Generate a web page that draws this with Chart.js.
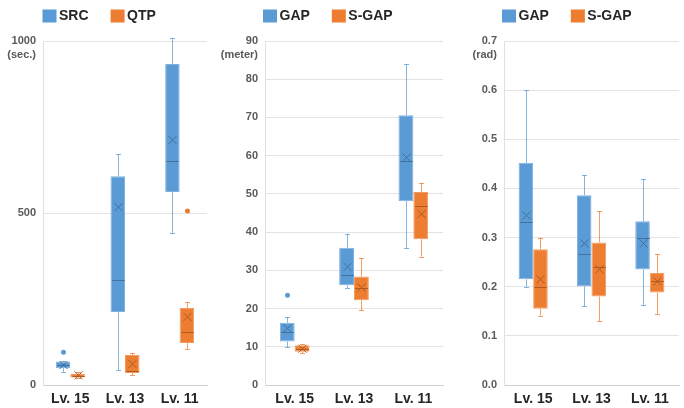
<!DOCTYPE html>
<html><head><meta charset="utf-8">
<script src="https://cdn.jsdelivr.net/npm/chart.js@4.4.0/dist/chart.umd.min.js"></script>
<style>
html,body{margin:0;padding:0;background:#fff;}
#wrap{position:relative;width:684px;height:408px;overflow:hidden;background:#fff}
canvas{position:absolute;top:0}
</style></head><body>
<div id="wrap">
<canvas id="c1" style="left:0px;width:228px;height:408px" width="228" height="408"></canvas>
<canvas id="c2" style="left:210px;width:240px;height:408px" width="240" height="408"></canvas>
<canvas id="c3" style="left:450px;width:234px;height:408px" width="234" height="408"></canvas>
</div>
<script>
// ---------- data ----------
const categories = ['Lv. 15', 'Lv. 13', 'Lv. 11'];

// Panel 1: time (sec.)
const timeUnit = '(sec.)';
const timeMax = 1000, timeStep = 500;
const srcMin  = [38, 44, 441];
const srcQ1   = [49, 212, 561];
const srcMed  = [58, 305, 651];
const srcQ3   = [68, 607, 933];
const srcMax  = [70, 671, 1009];
const srcMean = [58, 517, 712];
const srcOut  = [[95], [], []];
const qtpMin  = [19, 29, 105];
const qtpQ1   = [22, 35, 122];
const qtpMed  = [27, 40, 154];
const qtpQ3   = [32, 87, 224];
const qtpMax  = [37, 93, 241];
const qtpMean = [28, 61, 198];
const qtpOut  = [[], [], [506]];

// Panel 2: distance (meter)
const distUnit = '(meter)';
const distMax = 90, distStep = 10;
const gapDMin  = [9.9, 25.4, 35.8];
const gapDQ1   = [11.4, 26.1, 48.1];
const gapDMed  = [13.9, 28.9, 58.5];
const gapDQ3   = [16.3, 35.9, 70.6];
const gapDMax  = [17.8, 39.6, 83.9];
const gapDMean = [14.8, 30.9, 59.5];
const gapDOut  = [[23.5], [], []];
const sgapDMin  = [8.3, 19.5, 33.6];
const sgapDQ1   = [8.7, 22.2, 38.1];
const sgapDMed  = [9.5, 25.5, 46.8];
const sgapDQ3   = [10.4, 28.4, 50.5];
const sgapDMax  = [10.7, 33.2, 52.9];
const sgapDMean = [9.5, 25.5, 44.7];
const sgapDOut  = [[], [], []];

// Panel 3: angle (rad)
const angUnit = '(rad)';
const angMax = 0.7, angStep = 0.1;
const gapAMin  = [0.200, 0.160, 0.162];
const gapAQ1   = [0.215, 0.201, 0.235];
const gapAMed  = [0.332, 0.266, 0.300];
const gapAQ3   = [0.452, 0.386, 0.333];
const gapAMax  = [0.600, 0.427, 0.419];
const gapAMean = [0.345, 0.288, 0.288];
const gapAOut  = [[], [], []];
const sgapAMin  = [0.141, 0.130, 0.145];
const sgapAQ1   = [0.155, 0.180, 0.188];
const sgapAMed  = [0.200, 0.241, 0.212];
const sgapAQ3   = [0.276, 0.290, 0.228];
const sgapAMax  = [0.300, 0.354, 0.266];
const sgapAMean = [0.215, 0.235, 0.211];
const sgapAOut  = [[], [], []];

// ---------- styles ----------
const BLUE = '#5b9bd5', ORANGE = '#ed7d31';
const SANS = '"Liberation Sans", Arial, sans-serif';

function boxDataset(label, color, edge, dark, whisk, mn, q1, med, q3, mx, mean, out) {
  return {
    label,
    data: q1.map((v, i) => [v, q3[i]]),
    stats: {min: mn, med, max: mx, mean, out},
    backgroundColor: color,
    borderColor: edge,
    borderWidth: 1,
    borderSkipped: false,
    darkColor: dark,
    whiskerColor: whisk
  };
}

const boxPlugin = {
  id: 'boxWhisker',
  afterDatasetsDraw(chart) {
    const ctx = chart.ctx, ys = chart.scales.y;
    const py = v => ys.getPixelForValue(v);
    const line = (x1, y1, x2, y2) => { ctx.beginPath(); ctx.moveTo(x1, y1); ctx.lineTo(x2, y2); ctx.stroke(); };
    chart.data.datasets.forEach((ds, di) => {
      const meta = chart.getDatasetMeta(di);
      const st = ds.stats;
      meta.data.forEach((bar, i) => {
        const x = Math.round(bar.x) + 0.5, w = bar.width;
        const [q1, q3] = ds.data[i];
        ctx.save();
        ctx.lineWidth = 1;
        ctx.strokeStyle = ds.whiskerColor;
        line(x, py(q3), x, py(st.max[i]));
        line(x, py(q1), x, py(st.min[i]));
        const cap = 2.5;
        line(x - cap, Math.round(py(st.max[i])) + 0.5, x + cap, Math.round(py(st.max[i])) + 0.5);
        line(x - cap, Math.round(py(st.min[i])) + 0.5, x + cap, Math.round(py(st.min[i])) + 0.5);
        ctx.strokeStyle = ds.darkColor;
        const my = Math.round(py(st.med[i])) + 0.5;
        line(x - w / 2 + 1, my, x + w / 2 - 1, my);
        const m = py(st.mean[i]), s = 4;
        line(x - s, m - s, x + s, m + s);
        line(x - s, m + s, x + s, m - s);
        ctx.fillStyle = ds.backgroundColor;
        st.out[i].forEach(v => { ctx.beginPath(); ctx.arc(x, py(v), 2.5, 0, Math.PI * 2); ctx.fill(); });
        ctx.restore();
      });
    });
  }
};

const textPlugin = {
  id: 'panelText',
  afterDraw(chart, args, opts) {
    const ctx = chart.ctx, area = chart.chartArea;
    ctx.save();
    // unit label under top tick
    ctx.font = 'bold 11px ' + SANS;
    ctx.fillStyle = '#595959';
    ctx.textAlign = 'right';
    ctx.textBaseline = 'middle';
    ctx.fillText(opts.unit, area.left - 7, area.top + 14);
    // legend
    let x = area.left + opts.legendShift;
    const yTop = 9.5;
    ctx.font = 'bold 14px ' + SANS;
    ctx.textAlign = 'left';
    chart.data.datasets.forEach(ds => {
      ctx.fillStyle = ds.backgroundColor;
      ctx.fillRect(x, yTop, 14, 13);
      ctx.fillStyle = '#262626';
      ctx.fillText(ds.label, x + 16.5, yTop + 7);
      x += 16.5 + ctx.measureText(ds.label).width + 22;
    });
    ctx.restore();
  }
};

function makeChart(id, datasets, yMax, yStep, unit, yWidth, padRight, catPct, legendShift, decimals) {
  return new Chart(document.getElementById(id), {
    type: 'bar',
    data: {labels: categories, datasets},
    options: {
      responsive: false,
      animation: false,
      devicePixelRatio: 1,
      layout: {padding: {top: 41, right: padRight, bottom: 0, left: 0}},
      datasets: {bar: {categoryPercentage: catPct, barPercentage: 1.0}},
      plugins: {
        legend: {display: false},
        tooltip: {enabled: false},
        panelText: {unit, legendShift}
      },
      scales: {
        x: {
          grid: {display: false, drawTicks: false},
          border: {display: true, color: '#d0d0d0'},
          ticks: {font: {family: SANS, size: 14, weight: 'bold'}, color: '#262626', padding: 6},
          afterFit(s) { s.height = 23; }
        },
        y: {
          min: 0, max: yMax,
          grid: {color: '#e3e3e3', drawTicks: false},
          border: {display: true, color: '#e0e0e0'},
          ticks: {
            stepSize: yStep,
            padding: 7,
            font: {family: SANS, size: 11, weight: 'bold'},
            color: '#595959',
            callback: v => decimals ? Number(v).toFixed(decimals) : v
          },
          afterFit(s) { s.width = yWidth; }
        }
      }
    },
    plugins: [boxPlugin, textPlugin]
  });
}

makeChart('c1', [
  boxDataset('SRC', BLUE, '#7fb1df', '#41719c', 'rgba(91,155,213,0.75)', srcMin, srcQ1, srcMed, srcQ3, srcMax, srcMean, srcOut),
  boxDataset('QTP', ORANGE, '#f19a62', '#ae5a21', 'rgba(237,125,49,0.75)', qtpMin, qtpQ1, qtpMed, qtpQ3, qtpMax, qtpMean, qtpOut)
], timeMax, timeStep, timeUnit, 43, 21, 0.53, -0.5, 0);

makeChart('c2', [
  boxDataset('GAP', BLUE, '#7fb1df', '#41719c', 'rgba(91,155,213,0.75)', gapDMin, gapDQ1, gapDMed, gapDQ3, gapDMax, gapDMean, gapDOut),
  boxDataset('S-GAP', ORANGE, '#f19a62', '#ae5a21', 'rgba(237,125,49,0.75)', sgapDMin, sgapDQ1, sgapDMed, sgapDQ3, sgapDMax, sgapDMean, sgapDOut)
], distMax, distStep, distUnit, 55, 7, 0.5, -2, 0);

makeChart('c3', [
  boxDataset('GAP', BLUE, '#7fb1df', '#41719c', 'rgba(91,155,213,0.75)', gapAMin, gapAQ1, gapAMed, gapAQ3, gapAMax, gapAMean, gapAOut),
  boxDataset('S-GAP', ORANGE, '#f19a62', '#ae5a21', 'rgba(237,125,49,0.75)', sgapAMin, sgapAQ1, sgapAMed, sgapAQ3, sgapAMax, sgapAMean, sgapAOut)
], angMax, angStep, angUnit, 54, 5, 0.5, -2, 1);
</script>
</body></html>
